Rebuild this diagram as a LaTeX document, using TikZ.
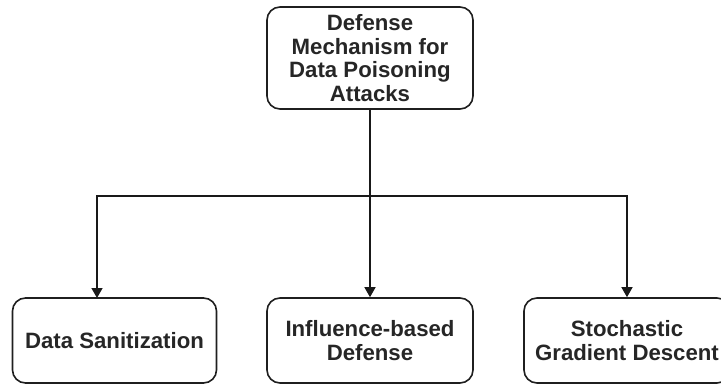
\documentclass[tikz,border=0pt]{standalone}
\usepackage{fontspec}
\setmainfont{Liberation Sans}
\usetikzlibrary{arrows.meta}
\begin{document}
\begin{tikzpicture}[x=1pt,y=1pt,
  box/.style={draw=black!88, line width=1.6pt, rounded corners=13pt,
    align=center, inner sep=0pt,
    font=\fontsize{22.2}{23.5}\selectfont\bfseries, text=black!85},
  link/.style={draw=black!90, line width=1.5pt},
  arr/.style={link, -{Triangle[width=11pt,length=10pt]}}]
  \useasboundingbox (0,0) rectangle (721,-385);
  % root
  \node[box, minimum width=206pt, minimum height=102pt] (top) at (370,-58)
    {Defense\\Mechanism for\\Data Poisoning\\Attacks};
  % leaves
  \node[box, minimum width=204pt, minimum height=85pt] (ds) at (114.5,-340.5)
    {Data Sanitization};
  \node[box, minimum width=206pt, minimum height=85pt] (ib) at (370,-340.5)
    {Influence-based\\Defense};
  \node[box, minimum width=206pt, minimum height=85pt] (sgd) at (627,-340.5)
    {Stochastic\\Gradient Descent};
  % branching connectors
  \coordinate (j) at (370,-196);
  \coordinate (dsin) at (97,-298);
  \draw[link] (top.south) -- (j);
  \draw[arr] (j) -| (dsin);
  \draw[arr] (j) -- (ib.north);
  \draw[arr] (j) -| (sgd.north);
\end{tikzpicture}
\end{document}
